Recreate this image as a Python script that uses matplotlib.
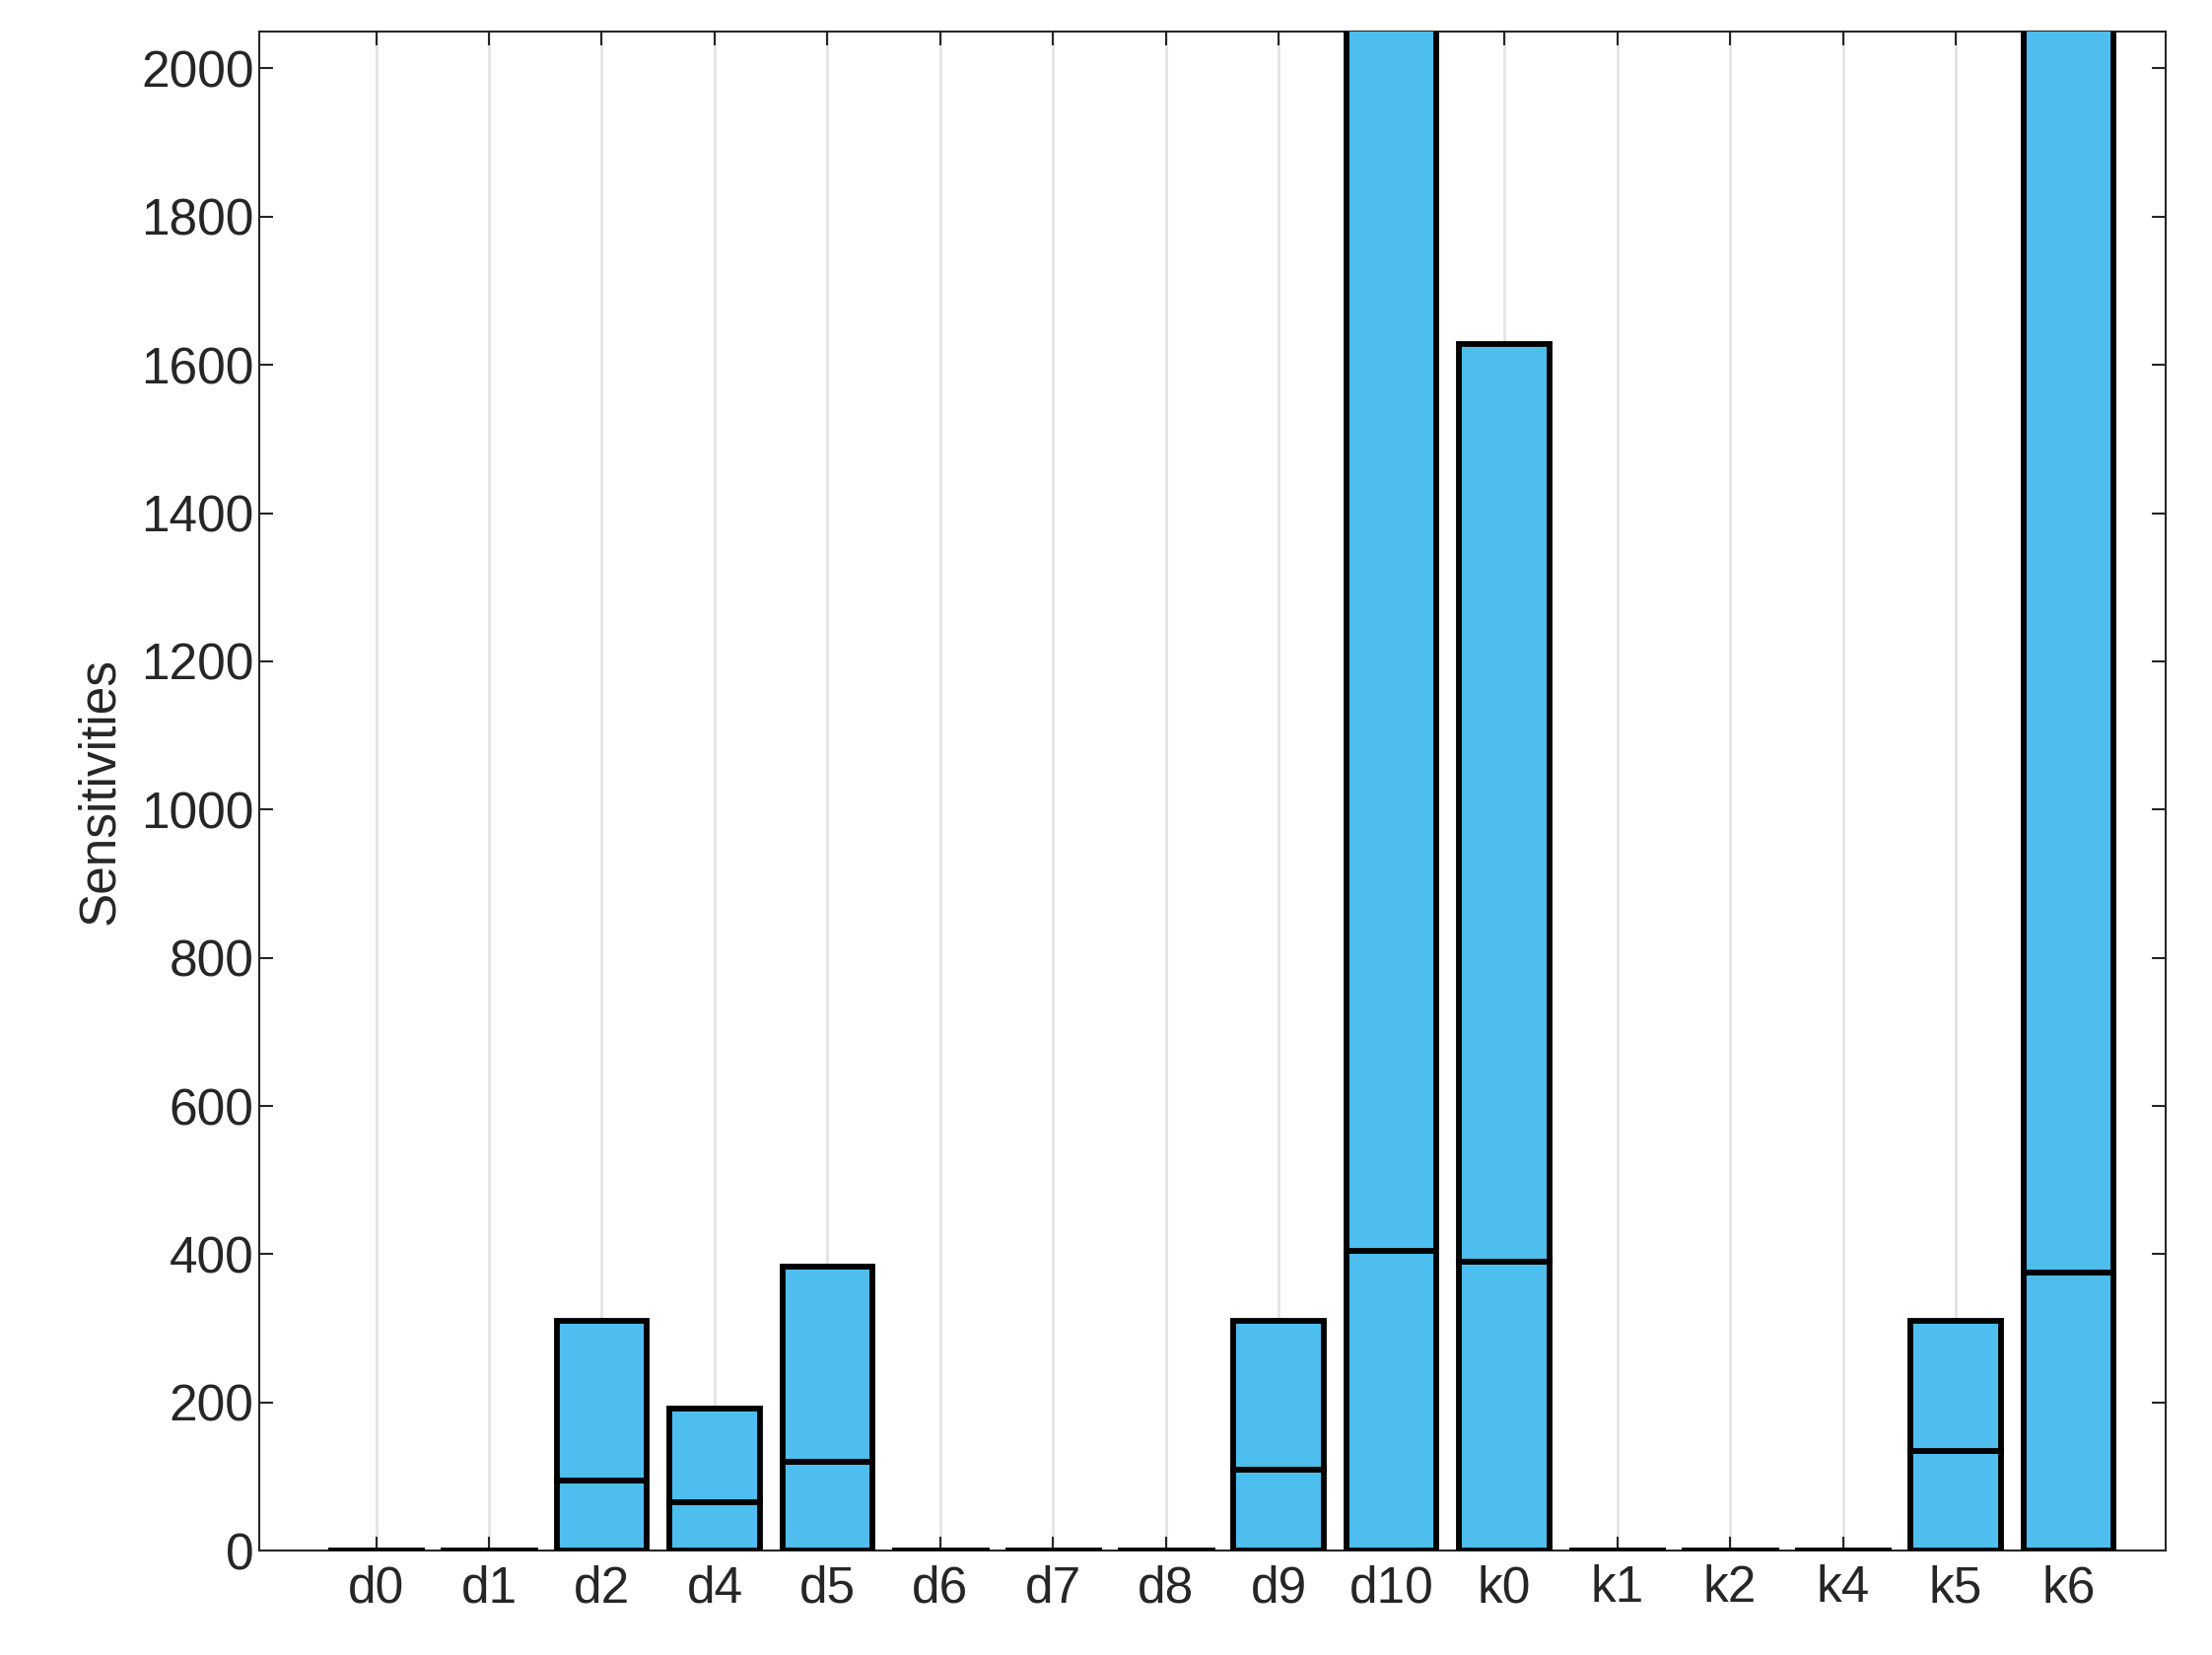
import numpy as np
import matplotlib.pyplot as plt

labels = ['d0', 'd1', 'd2', 'd4', 'd5', 'd6', 'd7', 'd8', 'd9', 'd10',
          'k0', 'k1', 'k2', 'k4', 'k5', 'k6']
lower = [0, 0, 95, 65, 120, 0, 0, 0, 110, 405, 390, 0, 0, 0, 135, 375]
total = [0, 0, 310, 192, 383, 0, 0, 0, 310, 2300, 1628, 0, 0, 0, 310, 2300]

plt.rcParams['font.family'] = ['Liberation Sans', 'DejaVu Sans']
fig = plt.figure(figsize=(22.44, 16.79), dpi=100)
ax = fig.add_axes([0.117, 0.063, 0.862, 0.918])

x = np.arange(len(labels))
lower = np.array(lower)
upper = np.array(total) - lower
col = '#4dbeee'
ax.bar(x, lower, 0.8, color=col, edgecolor='black', linewidth=4.2, zorder=3)
ax.bar(x, upper, 0.8, bottom=lower, color=col, edgecolor='black', linewidth=4.2, zorder=3)
for xi, t in zip(x, total):
    if t == 0:
        ax.plot([xi - 0.4, xi + 0.4], [0, 0], color='black', lw=5, zorder=4)

ax.set_xlim(-1.04, 15.86)
ax.set_ylim(0, 2050)
ax.set_xticks(x)
ax.set_xticklabels(labels)
ax.set_yticks(np.arange(0, 2001, 200))
ax.xaxis.grid(True, color='#e3e3e3', lw=2, zorder=0)
ax.tick_params(direction='in', length=10, width=1.5, labelsize=37, colors='#262626',
               top=True, right=True)
ax.tick_params(axis='x', pad=10)
ax.set_ylabel('Sensitivities', fontsize=37, color='#262626', labelpad=12)
for s in ax.spines.values():
    s.set_linewidth(1.5)
    s.set_color('#262626')
fig.savefig('out.png', dpi=100)
